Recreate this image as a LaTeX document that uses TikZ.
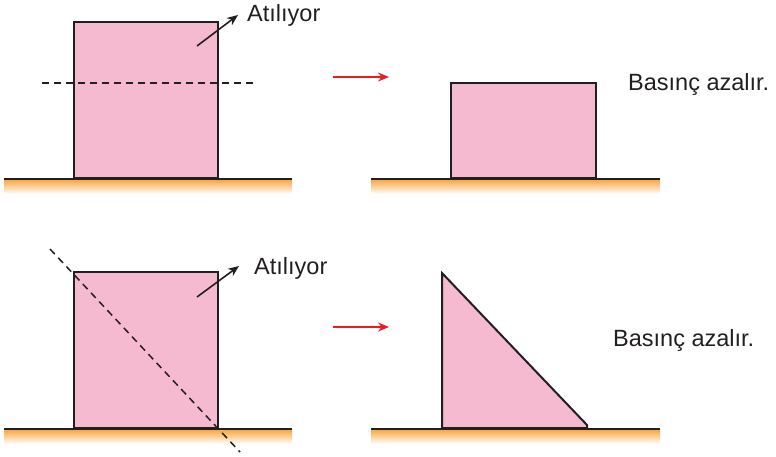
\documentclass[tikz,border=0pt]{standalone}
\usepackage{fontspec}
\setmainfont{Liberation Sans}
\usetikzlibrary{arrows.meta}
\definecolor{pinkfill}{HTML}{F5B9D0}
\definecolor{inkline}{HTML}{231F20}
\definecolor{groundorange}{HTML}{F7A238}
\definecolor{redarrow}{HTML}{ED1C24}
\tikzset{
  solidbox/.style={draw=inkline, fill=pinkfill, line width=2pt, inner sep=0pt, outer sep=0pt},
  groundline/.style={draw=inkline, line width=2pt},
  groundshade/.style={top color=groundorange, bottom color=white, draw=none},
  cutline/.style={draw=inkline, line width=1.5pt, dash pattern=on 7pt off 5pt},
  throwarrow/.style={draw=inkline, line width=1.6pt, -{Stealth[length=11pt,width=9pt]}},
  resultarrow/.style={draw=redarrow, line width=1.6pt, -{Stealth[length=11pt,width=9pt]}},
  lbl/.style={font=\fontsize{23.5}{28}\selectfont, text=inkline, inner sep=0pt, anchor=base west}
}
\begin{document}
\begin{tikzpicture}[x=1pt,y=-1pt]
\useasboundingbox (0,0) rectangle (776,456);
% ---------- top row ----------
\shade[groundshade] (4,179) rectangle (292,194);
\shade[groundshade] (371,179) rectangle (660,194);
\node[solidbox, minimum width=144pt, minimum height=156pt] (b1) at (146,100) {};
\coordinate (g1a) at (4,178.5);
\coordinate (g1b) at (292,178.5);
\draw[groundline] (g1a) -- (g1b);
\coordinate (c1a) at (42,83);
\coordinate (c1b) at (254,83);
\draw[cutline] (c1a) -- (c1b);
\coordinate (t1s) at (197,46);
\coordinate (t1e) at (238,15);
\draw[throwarrow] (t1s) -- (t1e);
\node[lbl] (at1) at (247,21) {Atılıyor};
\coordinate (r1s) at (333,77);
\coordinate (r1e) at (389,77);
\draw[resultarrow] (r1s) -- (r1e);
\node[solidbox, minimum width=145pt, minimum height=95pt] (b2) at (523.5,130.5) {};
\coordinate (g2a) at (371,178.5);
\coordinate (g2b) at (660,178.5);
\draw[groundline] (g2a) -- (g2b);
\node[lbl] (ba1) at (628,90) {Basınç azalır.};
% ---------- bottom row ----------
\shade[groundshade] (4,429) rectangle (292,444);
\shade[groundshade] (371,429) rectangle (660,444);
\node[solidbox, minimum width=144pt, minimum height=156pt] (b3) at (146,350) {};
\coordinate (g3a) at (4,428.5);
\coordinate (g3b) at (292,428.5);
\draw[groundline] (g3a) -- (g3b);
\coordinate (c3a) at (50,249);
\coordinate (c3b) at (240,452);
\draw[cutline] (c3a) -- (c3b);
\coordinate (t3s) at (197,297);
\coordinate (t3e) at (239,266);
\draw[throwarrow] (t3s) -- (t3e);
\node[lbl] (at3) at (254,274) {Atılıyor};
\coordinate (r3s) at (333,327);
\coordinate (r3e) at (389,327);
\draw[resultarrow] (r3s) -- (r3e);
\coordinate (tr1) at (442,273);
\coordinate (tr2) at (442,428);
\coordinate (tr3) at (587,428);
\coordinate (tr4) at (587,425);
\draw[solidbox, line join=miter] (tr1) -- (tr2) -- (tr3) -- (tr4) -- cycle;
\coordinate (g4a) at (371,428.5);
\coordinate (g4b) at (660,428.5);
\draw[groundline] (g4a) -- (g4b);
\node[lbl] (ba2) at (613,346) {Basınç azalır.};
\end{tikzpicture}
\end{document}
